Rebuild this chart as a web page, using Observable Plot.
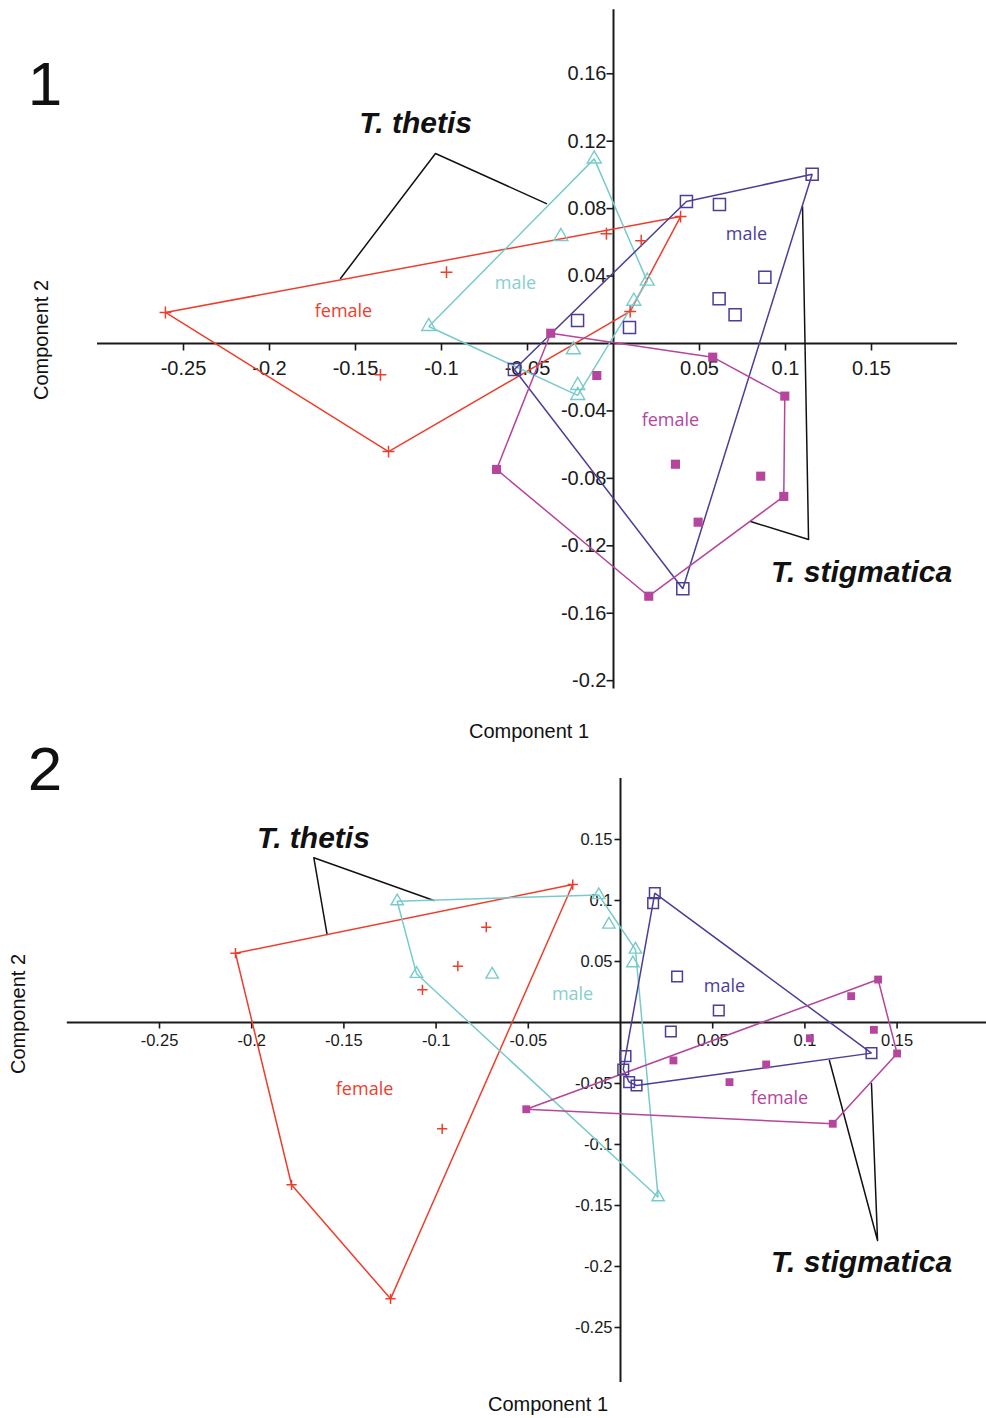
<!DOCTYPE html>
<html>
<head>
<meta charset="utf-8">
<script src="https://cdn.jsdelivr.net/npm/d3@7"></script>
<script src="https://cdn.jsdelivr.net/npm/@observablehq/plot@0.6"></script>
<style>
  html, body { margin: 0; padding: 0; background: #fff; }
  #wrap { position: relative; width: 986px; height: 1418px; overflow: hidden; }
  #wrap svg { display: block; }
  .ov { position: absolute; font-family: "Liberation Sans", Arial, sans-serif; color: #111; white-space: nowrap; transform: translate(-50%, -50%); }
  .num { font-size: 62px; }
  .axt { font-size: 20px; }
  .rot { transform: translate(-50%, -50%) rotate(-90deg); }
</style>
</head>
<body>
<div id="wrap">
  <div id="p1"></div>
  <div id="p2"></div>
  <div class="ov num" style="left:45px; top:83px;">1</div>
  <div class="ov num" style="left:45px; top:768px;">2</div>
  <div class="ov axt" style="left:529px; top:731px;">Component 1</div>
  <div class="ov axt rot" style="left:41px; top:340px;">Component 2</div>
  <div class="ov axt" style="left:548px; top:1404px;">Component 1</div>
  <div class="ov axt rot" style="left:18px; top:1014px;">Component 2</div>
</div>
<script>
// ---------- Panel 1 data (Component 1, Component 2) ----------
const p1ThetisFemale = [[-0.2605,0.0184],[-0.1308,-0.0641],[0.0390,0.0753],[-0.0971,0.0423],[-0.1355,-0.0186],[-0.0041,0.0651],[0.0161,0.0610],[0.0097,0.0190]];
const p1ThetisMale = [[-0.0112,0.1095],[-0.0306,0.0635],[-0.1074,0.0101],[0.0196,0.0370],[0.0118,0.0251],[-0.0233,-0.0037],[-0.0208,-0.0249],[-0.0208,-0.0308]];
const p1StigMale = [[0.1155,0.1004],[0.0424,0.0842],[0.0616,0.0824],[0.0880,0.0393],[0.0614,0.0265],[0.0707,0.0170],[-0.0209,0.0136],[0.0093,0.0095],[-0.0576,-0.0154],[0.0403,-0.1455]];
const p1StigFemale = [[-0.0365,0.0061],[0.0577,-0.0081],[-0.0097,-0.0190],[0.0996,-0.0312],[-0.0680,-0.0747],[0.0360,-0.0716],[0.0856,-0.0787],[0.0990,-0.0907],[0.0492,-0.1060],[0.0205,-0.1499]];
const p1XTicks = [-0.25,-0.2,-0.15,-0.1,-0.05,0.05,0.1,0.15];
const p1YTicks = [0.16,0.12,0.08,0.04,-0.04,-0.08,-0.12,-0.16,-0.2];
const p1GroupLabels = [
  {text:"female", x:-0.157, y:0.019, g:"tf"},
  {text:"male", x:-0.057, y:0.0356, g:"tm"},
  {text:"male", x:0.0773, y:0.0646, g:"sm"},
  {text:"female", x:0.0331, y:-0.0457, g:"sf"}
];
const p1SpeciesLabels = [
  {text:"T. thetis", x:-0.1151, y:0.1305},
  {text:"T. stigmatica", x:0.1442, y:-0.1358}
];
const p1LeaderThetis = [[-0.1587,0.0386],[-0.1035,0.1127],[-0.0390,0.0830]];
const p1LeaderStig = [[0.0797,-0.1056],[0.1134,-0.1163],[0.1099,0.0813]];

// ---------- Panel 2 data ----------
const p2ThetisFemale = [[-0.2088,0.0568],[-0.0259,0.1131],[-0.1784,-0.1330],[-0.1247,-0.2265],[-0.0728,0.0781],[-0.0882,0.0462],[-0.1074,0.0268],[-0.0967,-0.0871]];
const p2ThetisMale = [[-0.1211,0.0994],[-0.0118,0.1045],[-0.0063,0.0803],[0.0081,0.0598],[0.0067,0.0486],[-0.1106,0.0399],[-0.0696,0.0393],[0.0204,-0.1432]];
const p2StigMale = [[0.0186,0.1060],[0.0177,0.0978],[0.0307,0.0377],[0.0533,0.0098],[0.0273,-0.0074],[0.0027,-0.0276],[0.0015,-0.0385],[0.0047,-0.0489],[0.0087,-0.0516],[0.1361,-0.0251]];
const p2StigFemale = [[0.1397,0.0352],[0.1251,0.0216],[0.1374,-0.0060],[0.1027,-0.0129],[0.1500,-0.0254],[0.0287,-0.0311],[0.0790,-0.0344],[0.0591,-0.0489],[0.1151,-0.0830],[-0.0511,-0.0711]];
const p2XTicks = [-0.25,-0.2,-0.15,-0.1,-0.05,0.05,0.1,0.15];
const p2YTicks = [0.15,0.1,0.05,-0.05,-0.1,-0.15,-0.2,-0.25];
const p2GroupLabels = [
  {text:"female", x:-0.1388, y:-0.0549, g:"tf"},
  {text:"male", x:-0.026, y:0.023, g:"tm"},
  {text:"male", x:0.0564, y:0.0295, g:"sm"},
  {text:"female", x:0.0862, y:-0.0623, g:"sf"}
];
const p2SpeciesLabels = [
  {text:"T. thetis", x:-0.1665, y:0.1508},
  {text:"T. stigmatica", x:0.1307, y:-0.1967}
];
const p2LeaderThetis = [[-0.1591,0.0721],[-0.1663,0.1350],[-0.1012,0.1000]];
const p2LeaderStig = [[0.1133,-0.0311],[0.1394,-0.1787],[0.1361,-0.0500]];

// ---------- styling ----------
const colors = {tf:"#ef3d2b", tm:"#79cbcb", sm:"#4a3e98", sf:"#b5459d"};
const labelColors = {tf:"#ef3d2b", tm:"#86cfd0", sm:"#4a3e98", sf:"#b5459d"};

function tickSymbol(dx, dy) {
  return {draw(ctx) { ctx.moveTo(0, 0); ctx.lineTo(dx, dy); }};
}

function panel(cfg) {
  const {tf, tm, sm, sf, xTicks, yTicks, groupLabels, speciesLabels, leaders, o} = cfg;
  const marks = [];
  // axes crossing at origin
  marks.push(Plot.ruleY([0], {x1: o.xd[0], x2: o.xd[1], stroke: "#1a1a1a", strokeWidth: 2}));
  marks.push(Plot.ruleX([0], {y1: o.yd[0], y2: o.yd[1], stroke: "#1a1a1a", strokeWidth: 2}));
  marks.push(Plot.dot(xTicks, {x: d => d, y: () => 0, symbol: tickSymbol(0, o.tick), stroke: "#1a1a1a", fill: "none", strokeWidth: 1.6}));
  marks.push(Plot.dot(yTicks, {x: () => 0, y: d => d, symbol: tickSymbol(-o.tick, 0), stroke: "#1a1a1a", fill: "none", strokeWidth: 1.6}));
  marks.push(Plot.text(xTicks, {x: d => d, y: () => 0, text: d => String(d), dy: o.xdy, fill: "#1a1a1a",
    fontSize: o.fs, fontFamily: o.ff}));
  marks.push(Plot.text(yTicks, {x: () => 0, y: d => d, text: d => String(d), dx: o.ydx, textAnchor: "end", fill: "#1a1a1a",
    fontSize: o.fs, fontFamily: o.ff}));
  // leader lines
  for (const l of leaders) {
    marks.push(Plot.line(l, {x: d => d[0], y: d => d[1], stroke: "#111", strokeWidth: 1.5}));
  }
  // convex hulls
  const groups = [["tf", tf], ["tm", tm], ["sm", sm], ["sf", sf]];
  for (const [g, data] of groups) {
    marks.push(Plot.hull(data, {x: d => d[0], y: d => d[1], stroke: colors[g], strokeWidth: 1.5}));
  }
  // markers
  marks.push(Plot.dot(tf, {x: d => d[0], y: d => d[1], symbol: "plus", r: o.rPlus, stroke: colors.tf, strokeWidth: 1.5}));
  marks.push(Plot.dot(tm, {x: d => d[0], y: d => d[1], symbol: "triangle", r: o.rTri, stroke: colors.tm, fill: "none", strokeWidth: 1.4}));
  marks.push(Plot.dot(sm, {x: d => d[0], y: d => d[1], symbol: "square", r: o.rSq, stroke: colors.sm, fill: "none", strokeWidth: 1.5}));
  marks.push(Plot.dot(sf, {x: d => d[0], y: d => d[1], symbol: "square2", r: o.rSqF, fill: colors.sf, stroke: "none"}));
  // group labels
  marks.push(Plot.text(groupLabels, {x: "x", y: "y", text: "text", fill: d => labelColors[d.g],
    fontSize: 18, fontFamily: "'Open Sans', 'Noto Sans', sans-serif"}));
  // species labels
  marks.push(Plot.text(speciesLabels, {x: "x", y: "y", text: "text", fill: "#111",
    fontSize: 30, fontWeight: "bold", fontStyle: "italic", fontFamily: "'Liberation Sans', Arial, sans-serif"}));

  return Plot.plot({
    width: 986,
    height: o.h,
    style: {background: "white", overflow: "visible"},
    x: {domain: o.xd, range: o.xr, axis: null},
    y: {domain: o.yd, range: o.yr, axis: null},
    color: {type: "identity"},
    marks
  });
}

document.getElementById("p1").appendChild(panel({
  tf: p1ThetisFemale, tm: p1ThetisMale, sm: p1StigMale, sf: p1StigFemale,
  xTicks: p1XTicks, yTicks: p1YTicks, groupLabels: p1GroupLabels, speciesLabels: p1SpeciesLabels,
  leaders: [p1LeaderThetis, p1LeaderStig],
  o: {h: 750, xd: [-0.3, 0.2], xr: [97, 957], yd: [-0.205, 0.198], yr: [688.6, 9.2],
      tick: 7, xdy: 25, ydx: -7, fs: 20, ff: "'Liberation Sans', Arial, sans-serif",
      rPlus: 3.9, rTri: 5.2, rSq: 6.8, rSqF: 5.8}
}));

document.getElementById("p2").appendChild(panel({
  tf: p2ThetisFemale, tm: p2ThetisMale, sm: p2StigMale, sf: p2StigFemale,
  xTicks: p2XTicks, yTicks: p2YTicks, groupLabels: p2GroupLabels, speciesLabels: p2SpeciesLabels,
  leaders: [p2LeaderThetis, p2LeaderStig],
  o: {h: 668, xd: [-0.3, 0.2], xr: [66.8, 988.8], yd: [-0.295, 0.2], yr: [631.9, 28],
      tick: 6, xdy: 18, ydx: -8, fs: 16.5, ff: "'Liberation Sans', Arial, sans-serif",
      rPlus: 3.4, rTri: 4.6, rSq: 6, rSqF: 5}
}));
</script>
</body>
</html>
